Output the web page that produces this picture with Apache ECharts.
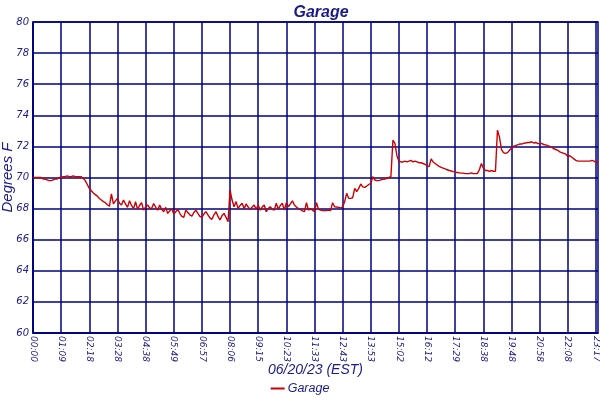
<!DOCTYPE html>
<html>
<head>
<meta charset="utf-8">
<script src="https://cdn.jsdelivr.net/npm/echarts@6/dist/echarts.min.js"></script>
<style>html,body{margin:0;padding:0;background:#fff}#c{width:600px;height:400px}</style>
</head>
<body>
<div id="c"></div>
<script>
const tickLabels = ['00:00','01:09','02:18','03:28','04:38','05:49','06:57','08:06','09:15','10:23','11:33','12:43','13:53','15:02','16:12','17:29','18:38','19:48','20:58','22:08','23:17'];
const lastLabel = '23:22';
const pointsPerTick = 14;
const yTicks = [60,62,64,66,68,70,72,74,76,78,80];
const seriesName = 'Garage';
const garage = [
70.0,70.0,70.0,70.0,70.0,69.9,69.9,69.85,69.8,69.8,69.85,69.9,69.9,70.0,70.0,
70.05,70.05,70.1,70.05,70.05,70.1,70.05,70.05,70.05,70.05,
69.95,69.8,69.55,69.3,69.15,69.0,68.9,68.8,68.65,68.55,68.45,68.38,68.25,68.15,
68.94,68.3,68.5,68.66,68.35,68.23,68.55,68.3,68.08,68.5,68.2,68.0,68.44,67.95,68.2,68.38,67.9,68.1,68.23,68.05,68.0,
68.33,68.1,67.9,68.23,67.95,67.8,68.08,67.69,67.85,68.0,67.65,67.8,67.95,67.7,67.5,67.44,67.9,67.75,67.6,67.52,
67.75,67.9,67.7,67.5,67.44,67.65,67.8,67.6,67.4,67.31,67.6,67.8,67.5,67.27,67.55,67.69,67.44,67.16,
69.2,68.55,68.12,68.45,68.0,68.2,68.34,68.0,68.3,68.1,67.95,68.1,68.23,67.95,68.23,67.9,68.1,68.23,67.8,68.0,
68.12,67.95,67.9,68.34,67.95,68.2,68.34,67.9,68.38,68.12,68.3,68.5,68.23,68.1,68.0,67.95,67.85,67.8,68.38,67.9,
68.0,67.9,67.8,68.38,67.95,67.9,67.87,67.87,67.87,67.9,67.87,68.38,68.12,68.1,68.08,68.05,68.1,68.45,68.98,68.66,
68.66,68.7,69.3,69.09,69.3,69.58,69.4,69.37,69.45,69.55,69.63,70.05,69.84,69.8,69.8,69.85,69.88,69.9,69.95,70.0,
70.05,72.4,72.2,71.4,71.05,71.0,71.0,71.05,71.0,71.05,71.1,71.0,71.05,71.0,70.95,70.95,70.9,70.85,70.75,70.7,
71.2,71.0,70.9,70.8,70.72,70.65,70.6,70.55,70.5,70.45,70.42,70.38,70.35,70.32,70.3,70.28,70.28,70.25,70.25,70.25,
70.3,70.25,70.25,70.25,70.5,70.9,70.6,70.45,70.45,70.4,70.45,70.4,70.4,73.05,72.6,71.8,71.6,71.55,71.6,71.75,
71.9,72.0,72.05,72.1,72.15,72.15,72.2,72.22,72.25,72.25,72.3,72.22,72.25,72.2,72.15,72.2,72.12,72.1,72.05,72.0,
71.95,71.85,71.8,71.75,71.65,71.6,71.55,71.5,71.35,71.4,71.3,71.2,71.1,71.05,71.05,71.05,71.05,71.05,71.05,71.05,
71.1,71.05,70.98,70.95
];
const categories = garage.map((v, i) => {
  if (i % pointsPerTick === 0 && tickLabels[i / pointsPerTick]) return tickLabels[i / pointsPerTick];
  if (i === garage.length - 1) return lastLabel;
  return '';
});
const navy = '#000080';
const txt = '#1a1a8c';
const chart = echarts.init(document.getElementById('c'), null, {renderer: 'canvas'});
chart.setOption({
  animation: false,
  backgroundColor: '#fff',
  title: {
    text: 'Garage', left: 316, top: 0, textAlign: 'center',
    textStyle: {fontFamily: 'Liberation Sans', fontStyle: 'italic', fontWeight: 'bold', fontSize: 16, color: txt}
  },
  legend: {
    data: [seriesName], left: 'center', bottom: 0, icon: 'rect', itemWidth: 14, itemHeight: 2, itemGap: 4,
    textStyle: {fontFamily: 'Liberation Sans', fontStyle: 'italic', fontSize: 12.5, color: txt, padding: [0,0,0,-2]}
  },
  grid: {left: 33, right: 2, top: 22, bottom: 67, show: true, borderColor: navy, borderWidth: 1.5, containLabel: false, outerBoundsMode: 'none'},
  xAxis: {
    type: 'category', data: categories, boundaryGap: false,
    name: '06/20/23 (EST)', nameLocation: 'middle', nameGap: 30, nameMoveOverlap: false,
    nameTextStyle: {fontFamily: 'Liberation Sans', fontStyle: 'italic', fontSize: 14, color: txt, verticalAlign: 'top'},
    axisLine: {lineStyle: {color: navy, width: 1.5}},
    axisTick: {show: false},
    axisLabel: {
      rotate: -90, margin: 3, color: txt, fontFamily: 'DejaVu Sans', fontStyle: 'italic', fontSize: 9,
      hideOverlap: false,
      interval: (i) => i % pointsPerTick === 0 || i === garage.length - 1
    },
    splitLine: {show: true, interval: (i) => i % pointsPerTick === 0, lineStyle: {color: navy, width: 1.5}}
  },
  yAxis: {
    type: 'value', min: yTicks[0], max: yTicks[yTicks.length - 1], interval: yTicks[1] - yTicks[0],
    name: 'Degrees F', nameLocation: 'middle', nameGap: 18, nameRotate: 90, nameMoveOverlap: false,
    nameTextStyle: {fontFamily: 'Liberation Sans', fontStyle: 'italic', fontSize: 15, color: txt},
    axisLine: {show: true, lineStyle: {color: navy, width: 1.5}},
    axisTick: {show: false},
    axisLabel: {margin: 4, color: txt, fontFamily: 'DejaVu Sans', fontStyle: 'italic', fontSize: 10},
    splitLine: {show: true, lineStyle: {color: navy, width: 1.5}}
  },
  series: [{
    name: seriesName, type: 'line', data: garage, showSymbol: false, symbol: 'none',
    lineStyle: {color: '#cc0000', width: 1.4}, itemStyle: {color: '#cc0000'}
  }]
});
</script>
</body>
</html>
